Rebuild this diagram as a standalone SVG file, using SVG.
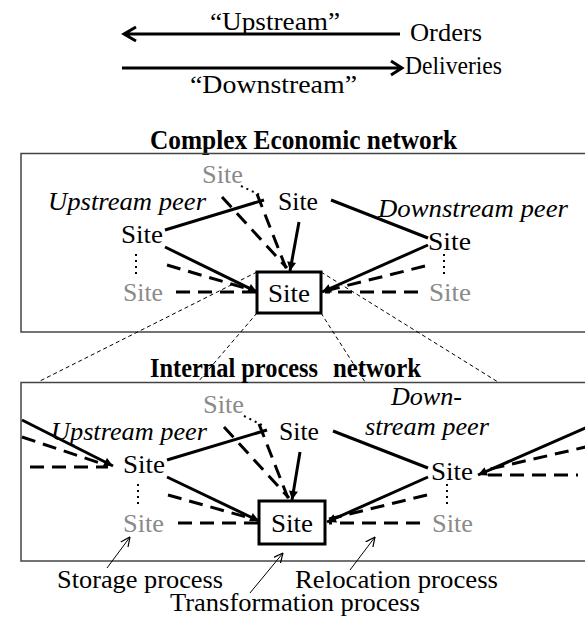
<svg xmlns="http://www.w3.org/2000/svg" width="585" height="617" viewBox="0 0 585 617">
<style>
text{font-family:"Times New Roman","Liberation Serif",Times,serif;fill:#000}
.t{font-size:25px}
.site{font-size:25px}
.gray{fill:#8a8a8a}
.it{font-style:italic;font-size:25px}
.title{font-size:27px;font-weight:bold}
.frame{fill:none;stroke:#444;stroke-width:1.5}
.sbox{fill:#fff;stroke:#000;stroke-width:3}
.solid{fill:none;stroke:#000;stroke-width:3}
.dash{fill:none;stroke:#000;stroke-width:3;stroke-dasharray:14 8}
.dot{fill:none;stroke:#000;stroke-width:2;stroke-dasharray:2 4}
.zoom{fill:none;stroke:#000;stroke-width:1;stroke-dasharray:4 3}
.thin{fill:none;stroke:#000;stroke-width:1}
</style>
<defs>
<marker id="ah" viewBox="0 0 10 10" refX="10" refY="5" markerWidth="3.6" markerHeight="3" orient="auto">
<path d="M0,0 L10,5 L0,10 z" fill="#000"/>
</marker>
<marker id="open" viewBox="0 0 10 10" refX="9.5" refY="5" markerWidth="10" markerHeight="10" markerUnits="userSpaceOnUse" orient="auto">
<path d="M0,0.5 L9.5,5 L0,9.5" fill="none" stroke="#000" stroke-width="1.2"/>
</marker>
</defs>

<g id="legend">
<path class="solid" d="M400,34 L124,34 M136,27 L124,34 L136,41"/>
<path class="solid" d="M122,68 L402,68 M391,61 L402,68 L391,75"/>
<text class="t" x="210" y="30" textLength="130" lengthAdjust="spacingAndGlyphs">“Upstream”</text>
<text class="t" x="410" y="41" textLength="72" lengthAdjust="spacingAndGlyphs">Orders</text>
<text class="t" x="405" y="74" textLength="97" lengthAdjust="spacingAndGlyphs">Deliveries</text>
<text class="t" x="190" y="93" textLength="167" lengthAdjust="spacingAndGlyphs">“Downstream”</text>
</g>

<g id="frames">
<text class="title" x="150" y="149" textLength="307" lengthAdjust="spacingAndGlyphs">Complex Economic network</text>
<rect class="frame" x="21" y="153.5" width="600" height="178.5"/>
<rect class="frame" x="21" y="382.5" width="600" height="178.5"/>
</g>

<g id="connectors">
<path class="zoom" d="M257,272 L38,382 M321,272 L498,382 M257,313 L198,382 M321,313 L365,382"/>
<path class="solid" d="M165,230 L264,200"/>
<path class="solid" d="M165,247 L257,292" marker-end="url(#ah)"/>
<path class="solid" d="M299,222 L290,271" marker-end="url(#ah)"/>
<path class="solid" d="M331,200 L428,238"/>
<path class="solid" d="M428,245 L322,292" marker-end="url(#ah)"/>
<path class="dash" d="M176,292 L257,292"/>
<path class="dash" d="M167,265 L255,291"/>
<path class="dash" d="M222,197 L287,268"/>
<path class="dash" d="M257,194 L286,268"/>
<path class="dot" d="M241,186 L260,195"/>
<path class="dot" d="M136,254 L136,276"/>
<path class="dot" d="M444,254 L444,274"/>
<path class="dash" d="M425,266 L325,291"/>
<path class="dash" d="M418,292 L325,292"/>
<path class="solid" d="M167,460 L267,430"/>
<path class="solid" d="M167,477 L259,521" marker-end="url(#ah)"/>
<path class="solid" d="M300,452 L292,500" marker-end="url(#ah)"/>
<path class="solid" d="M333,431 L428,468"/>
<path class="solid" d="M428,477 L327,522" marker-end="url(#ah)"/>
<path class="dash" d="M178,523 L259,523"/>
<path class="dash" d="M168,495 L257,520"/>
<path class="dash" d="M224,427 L289,498"/>
<path class="dash" d="M259,424 L288,498"/>
<path class="dot" d="M244,416 L262,425"/>
<path class="dot" d="M138,484 L138,505"/>
<path class="dot" d="M447,484 L447,505"/>
<path class="dash" d="M427,495 L329,519"/>
<path class="dash" d="M420,523 L329,523"/>
<path class="solid" d="M22,420 L113,466" marker-end="url(#ah)"/>
<path class="dash" d="M22,437 L103,464"/>
<path class="dash" d="M30,467 L108,467"/>
<path class="solid" d="M590,426 L478,475" marker-end="url(#ah)"/>
<path class="dash" d="M590,446 L490,469"/>
<path class="dash" d="M488,475 L578,475"/>
<path class="thin" d="M107,568 L130,537" marker-end="url(#open)"/>
<path class="thin" d="M250,593 L283,553" marker-end="url(#open)"/>
<path class="thin" d="M350,570 L375,537" marker-end="url(#open)"/>
</g>

<g id="top-network">
<g id="t-gray-up"><text class="site gray" x="202" y="183" textLength="41" lengthAdjust="spacingAndGlyphs">Site</text></g>
<g id="t-upstream-label"><text class="it" x="48" y="210" textLength="158" lengthAdjust="spacingAndGlyphs">Upstream peer</text></g>
<g id="t-site-top"><text class="site" x="278" y="210" textLength="40" lengthAdjust="spacingAndGlyphs">Site</text></g>
<g id="t-site-left"><text class="site" x="121" y="243" textLength="42" lengthAdjust="spacingAndGlyphs">Site</text></g>
<g id="t-downstream-label"><text class="it" x="378" y="217" textLength="190" lengthAdjust="spacingAndGlyphs">Downstream peer</text></g>
<g id="t-site-right"><text class="site" x="428" y="250" textLength="43" lengthAdjust="spacingAndGlyphs">Site</text></g>
<g id="t-gray-left"><text class="site gray" x="123" y="301" textLength="40" lengthAdjust="spacingAndGlyphs">Site</text></g>
<g id="t-gray-right"><text class="site gray" x="429" y="301" textLength="42" lengthAdjust="spacingAndGlyphs">Site</text></g>
<g id="t-site-center"><rect class="sbox" x="257" y="272" width="64" height="41"/><text class="site" x="268" y="302" textLength="42" lengthAdjust="spacingAndGlyphs">Site</text></g>
</g>

<g id="bottom-network">
<g id="b-title"><text class="title" x="150" y="377"><tspan x="150" textLength="168" lengthAdjust="spacingAndGlyphs">Internal process</tspan><tspan x="333" textLength="88" lengthAdjust="spacingAndGlyphs">network</tspan></text></g>
<g id="b-gray-up"><text class="site gray" x="203" y="413" textLength="41" lengthAdjust="spacingAndGlyphs">Site</text></g>
<g id="b-upstream-label"><text class="it" x="51" y="440" textLength="156" lengthAdjust="spacingAndGlyphs">Upstream peer</text></g>
<g id="b-site-top"><text class="site" x="279" y="440" textLength="40" lengthAdjust="spacingAndGlyphs">Site</text></g>
<g id="b-site-left"><text class="site" x="123" y="473" textLength="42" lengthAdjust="spacingAndGlyphs">Site</text></g>
<g id="b-downstream-label"><text class="it" x="391" y="405" textLength="71" lengthAdjust="spacingAndGlyphs">Down-</text><text class="it" x="365" y="435" textLength="124" lengthAdjust="spacingAndGlyphs">stream peer</text></g>
<g id="b-site-right"><text class="site" x="431" y="480" textLength="42" lengthAdjust="spacingAndGlyphs">Site</text></g>
<g id="b-gray-left"><text class="site gray" x="123" y="532" textLength="41" lengthAdjust="spacingAndGlyphs">Site</text></g>
<g id="b-gray-right"><text class="site gray" x="432" y="532" textLength="41" lengthAdjust="spacingAndGlyphs">Site</text></g>
<g id="b-site-center"><rect class="sbox" x="259" y="501" width="66" height="43"/><text class="site" x="271" y="532" textLength="42" lengthAdjust="spacingAndGlyphs">Site</text></g>
</g>

<g id="process-labels">
<text class="t" x="57" y="588" textLength="166" lengthAdjust="spacingAndGlyphs">Storage process</text>
<text class="t" x="295" y="588" textLength="203" lengthAdjust="spacingAndGlyphs">Relocation process</text>
<text class="t" x="170" y="611" textLength="250" lengthAdjust="spacingAndGlyphs">Transformation process</text>
</g>
</svg>
